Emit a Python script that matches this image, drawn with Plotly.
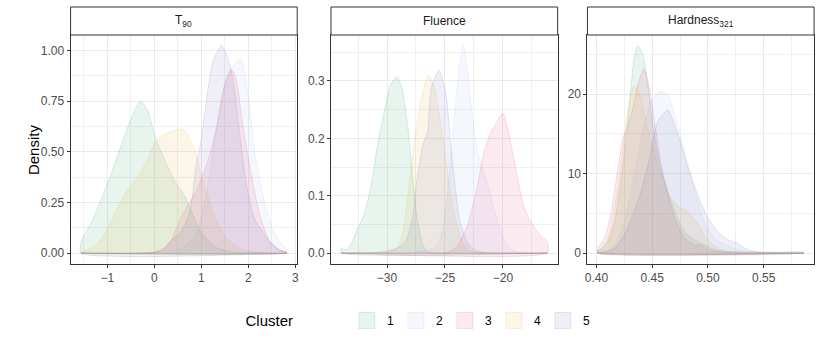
import plotly.graph_objects as go

# ---- data: density curves (x, density) ----
clusters = ["1", "2", "3", "4", "5"]
facet_titles = ["T<sub>90</sub>", "Fluence", "Hardness<sub>321</sub>"]

# T90
t90_x1 = [-1.56, -1.3, -1.0, -0.75, -0.5, -0.3, -0.15, 0.0, 0.2, 0.45, 0.65, 0.8, 1.0, 1.3, 1.6, 2.0, 2.4, 2.82]
t90_y1 = [0.054, 0.17, 0.34, 0.50, 0.66, 0.75, 0.71, 0.59, 0.47, 0.35, 0.28, 0.20, 0.10, 0.03, 0.008, 0.003, 0.001, 0.0]
t90_x2 = [-1.56, 0.0, 0.4, 0.7, 0.9, 1.1, 1.3, 1.5, 1.65, 1.85, 2.0, 2.15, 2.35, 2.55, 2.82]
t90_y2 = [0.0, 0.002, 0.01, 0.04, 0.10, 0.28, 0.58, 0.84, 0.92, 0.955, 0.78, 0.48, 0.25, 0.10, 0.01]
t90_x3 = [-1.56, 0.0, 0.2, 0.35, 0.6, 0.9, 1.15, 1.33, 1.5, 1.64, 1.74, 1.89, 2.06, 2.24, 2.45, 2.66, 2.82]
t90_y3 = [0.0, 0.003, 0.016, 0.06, 0.19, 0.31, 0.46, 0.63, 0.83, 0.905, 0.86, 0.62, 0.39, 0.19, 0.058, 0.016, 0.004]
t90_x4 = [-1.56, -1.3, -1.07, -0.85, -0.6, -0.37, -0.15, 0.0, 0.15, 0.35, 0.62, 0.82, 0.96, 1.11, 1.32, 1.6, 1.88, 2.2, 2.82]
t90_y4 = [0.003, 0.03, 0.09, 0.19, 0.30, 0.37, 0.46, 0.54, 0.58, 0.60, 0.612, 0.535, 0.42, 0.30, 0.156, 0.058, 0.016, 0.004, 0.0]
t90_x5 = [-1.56, 0.0, 0.2, 0.35, 0.55, 0.75, 0.9, 1.0, 1.11, 1.25, 1.43, 1.54, 1.68, 1.82, 1.96, 2.1, 2.24, 2.31, 2.45, 2.66, 2.82]
t90_y5 = [0.0, 0.005, 0.025, 0.06, 0.10, 0.2, 0.45, 0.56, 0.76, 0.95, 1.025, 0.98, 0.85, 0.58, 0.34, 0.19, 0.125, 0.107, 0.058, 0.016, 0.003]

# Fluence
flu_x1 = [-33.94, -33.5, -33.0, -32.5, -32.0, -31.4, -30.8, -30.2, -29.7, -29.15, -28.7, -28.2, -27.8, -27.4, -26.9, -26.5, -25.0, -16.17]
flu_y1 = [0.008, 0.006, 0.02, 0.045, 0.065, 0.115, 0.19, 0.25, 0.293, 0.307, 0.287, 0.218, 0.136, 0.061, 0.0145, 0.003, 0.0, 0.0]
flu_x2 = [-33.94, -28.0, -27.0, -26.0, -25.5, -25.1, -24.7, -24.4, -24.1, -23.8, -23.4, -23.0, -22.6, -22.2, -21.8, -21.4, -20.8, -20.2, -19.6, -19.0, -18.0, -16.17]
flu_y2 = [0.0, 0.001, 0.003, 0.008, 0.02, 0.05, 0.12, 0.19, 0.26, 0.32, 0.362, 0.31, 0.23, 0.18, 0.15, 0.125, 0.08, 0.04, 0.013, 0.003, 0.0, 0.0]
flu_x3 = [-33.94, -25.0, -24.5, -23.95, -23.1, -22.2, -21.65, -21.07, -20.5, -20.0, -19.49, -18.76, -18.2, -17.6, -16.75, -16.17]
flu_y3 = [0.0, 0.0, 0.004, 0.012, 0.046, 0.116, 0.174, 0.209, 0.229, 0.244, 0.209, 0.133, 0.081, 0.055, 0.03, 0.02]
flu_x4 = [-33.94, -30.5, -29.7, -29.1, -28.66, -28.2, -27.66, -27.1, -26.43, -25.9, -25.4, -24.9, -24.5, -23.9, -23.4, -22.8, -21.5, -16.17]
flu_y4 = [0.0, 0.0005, 0.003, 0.009, 0.032, 0.10, 0.189, 0.264, 0.31, 0.287, 0.229, 0.16, 0.10, 0.044, 0.0145, 0.003, 0.0, 0.0]
flu_x5 = [-33.94, -31.0, -30.0, -29.1, -28.4, -27.8, -27.4, -26.9, -26.5, -26.2, -25.5, -24.9, -24.5, -24.1, -23.7, -23.1, -22.5, -21.5, -16.17]
flu_y5 = [0.0, 0.001, 0.004, 0.009, 0.02, 0.061, 0.13, 0.189, 0.212, 0.287, 0.319, 0.276, 0.189, 0.113, 0.055, 0.02, 0.006, 0.001, 0.0]

# Hardness321
hrd_x1 = [0.4012, 0.4045, 0.4104, 0.4164, 0.4223, 0.4268, 0.4313, 0.4342, 0.4372, 0.4417, 0.4461, 0.4506, 0.4565, 0.464, 0.4714, 0.4789, 0.4878, 0.4967, 0.5057, 0.5176, 0.53, 0.586]
hrd_y1 = [0.25, 0.5, 1.47, 4.0, 9.4, 14.9, 21.2, 24.9, 26.1, 24.9, 21.2, 16.1, 11.5, 7.8, 4.8, 2.7, 1.7, 1.05, 0.42, 0.2, 0.15, 0.0]
hrd_x2 = [0.4012, 0.41, 0.4164, 0.4253, 0.4342, 0.4417, 0.4491, 0.458, 0.464, 0.47, 0.476, 0.482, 0.488, 0.494, 0.50, 0.508, 0.518, 0.527, 0.54, 0.56, 0.575, 0.586]
hrd_y2 = [0.1, 0.4, 1.0, 4.0, 9.9, 15.3, 19.1, 20.4, 19.9, 17.5, 14.5, 11.2, 8.0, 5.0, 3.0, 1.6, 0.9, 0.45, 0.2, 0.13, 0.2, 0.2]
hrd_x3 = [0.4012, 0.4074, 0.4134, 0.4193, 0.4238, 0.4283, 0.4327, 0.4372, 0.4426, 0.4476, 0.4521, 0.458, 0.464, 0.4714, 0.4789, 0.4878, 0.4938, 0.4997, 0.5116, 0.53, 0.586]
hrd_y3 = [0.63, 1.9, 5.2, 10.7, 14.5, 16.1, 18.2, 21.2, 23.2, 20.8, 16.6, 11.1, 7.3, 4.0, 1.9, 1.05, 1.05, 0.42, 0.13, 0.02, 0.0]
hrd_x4 = [0.4012, 0.4045, 0.4104, 0.4164, 0.4223, 0.4268, 0.4313, 0.4342, 0.4387, 0.4446, 0.4506, 0.458, 0.4655, 0.4729, 0.4818, 0.4893, 0.4967, 0.5042, 0.5116, 0.5235, 0.54, 0.586]
hrd_y4 = [0.3, 0.63, 1.9, 5.7, 11.5, 16.6, 20.3, 21.0, 19.9, 16.6, 13.2, 9.9, 7.3, 5.9, 5.2, 4.0, 2.3, 1.05, 0.42, 0.13, 0.03, 0.0]
hrd_x5 = [0.4012, 0.4074, 0.4164, 0.4253, 0.4327, 0.4402, 0.4476, 0.4551, 0.464, 0.473, 0.482, 0.491, 0.50, 0.509, 0.518, 0.527, 0.533, 0.541, 0.555, 0.586]
hrd_y5 = [0.05, 0.13, 0.63, 2.3, 4.8, 7.8, 11.9, 16.6, 18.0, 15.0, 10.8, 7.3, 4.4, 2.7, 1.7, 1.2, 0.65, 0.2, 0.1, 0.05]

facets = [
    [(t90_x1, t90_y1), (t90_x2, t90_y2), (t90_x3, t90_y3), (t90_x4, t90_y4), (t90_x5, t90_y5)],
    [(flu_x1, flu_y1), (flu_x2, flu_y2), (flu_x3, flu_y3), (flu_x4, flu_y4), (flu_x5, flu_y5)],
    [(hrd_x1, hrd_y1), (hrd_x2, hrd_y2), (hrd_x3, hrd_y3), (hrd_x4, hrd_y4), (hrd_x5, hrd_y5)],
]

# ---- style ----
base = ["30,150,90", "145,185,225", "225,45,115", "225,165,35", "105,95,175"]
alpha = 0.1
font = "Liberation Sans, Arial, sans-serif"
W, H = 830, 350
panels_px = [(68, 296), (330, 558), (588, 816)]
top_px, bottom_px, strip_top_px = 35, 263.5, 7

x_ranges = [[-1.78, 3.04], [-34.83, -15.28], [0.3920, 0.5952]]
y_ranges = [[-0.0513, 1.077], [-0.0181, 0.380], [-1.307, 27.45]]
x_dticks = [1, 5, 0.05]
y_dticks = [0.25, 0.1, 10]
x_fmt = ["d", "d", ".2f"]
y_fmt = [".2f", ".1f", "d"]

fig = go.Figure()

for i, curves in enumerate(facets):
    ax = "" if i == 0 else str(i + 1)
    for k, (xs, ys) in enumerate(curves):
        fig.add_trace(
            go.Scatter(
                x=list(xs) + [xs[-1], xs[0], xs[0]],
                y=list(ys) + [0, 0, ys[0]],
                mode="lines",
                fill="toself",
                fillcolor=f"rgba({base[k]},{alpha})",
                line={"color": f"rgba({base[k]},{alpha + 0.05})", "width": 1, "shape": "spline", "smoothing": 0.6},
                xaxis="x" + ax,
                yaxis="y" + ax,
                showlegend=False,
                hoverinfo="skip",
            )
        )

# legend-only entries
for k, name in enumerate(clusters):
    fig.add_trace(
        go.Scatter(
            x=[None],
            y=[None],
            mode="markers",
            name=name,
            marker={
                "symbol": "square",
                "size": 16,
                "color": f"rgba({base[k]},{alpha})",
                "line": {"color": f"rgba({base[k]},{alpha + 0.05})", "width": 1},
            },
        )
    )

y_dom = [1 - bottom_px / H, 1 - top_px / H]
axis_common = dict(
    showline=True,
    mirror=True,
    linecolor="#333333",
    linewidth=1,
    ticks="outside",
    ticklen=3,
    tickcolor="#333333",
    tickfont={"family": font, "size": 12, "color": "#4d4d4d"},
    showgrid=True,
    gridcolor="#ebebeb",
    gridwidth=1,
    zeroline=False,
)
layout = {}
shapes = []
annotations = []
for i, (x0, x1) in enumerate(panels_px):
    ax = "" if i == 0 else str(i + 1)
    layout["xaxis" + ax] = dict(
        axis_common,
        domain=[x0 / W, x1 / W],
        range=x_ranges[i],
        dtick=x_dticks[i],
        tickformat=x_fmt[i],
        anchor="y" + ax,
        minor={"dtick": x_dticks[i] / 2, "showgrid": True, "gridcolor": "#f0f0f0", "gridwidth": 1},
    )
    layout["yaxis" + ax] = dict(
        axis_common,
        domain=y_dom,
        range=y_ranges[i],
        dtick=y_dticks[i],
        tickformat=y_fmt[i],
        anchor="x" + ax,
        minor={"dtick": y_dticks[i] / 2, "showgrid": True, "gridcolor": "#f0f0f0", "gridwidth": 1},
    )
    shapes.append(
        dict(
            type="rect",
            xref="paper",
            yref="paper",
            x0=x0 / W,
            x1=x1 / W,
            y0=1 - top_px / H,
            y1=1 - strip_top_px / H,
            fillcolor="white",
            line={"color": "#333333", "width": 1},
            layer="above",
        )
    )
    annotations.append(
        dict(
            text=facet_titles[i],
            xref="paper",
            yref="paper",
            x=(x0 + x1) / 2 / W,
            y=1 - (top_px + strip_top_px) / 2 / H,
            showarrow=False,
            xanchor="center",
            yanchor="middle",
            font={"family": font, "size": 12, "color": "#1a1a1a"},
        )
    )

annotations.append(
    dict(
        text="Density",
        xref="paper",
        yref="paper",
        x=30 / W,
        y=(y_dom[0] + y_dom[1]) / 2,
        textangle=-90,
        showarrow=False,
        xanchor="center",
        yanchor="middle",
        font={"family": font, "size": 15, "color": "black"},
    )
)

fig.update_layout(
    **layout,
    width=W,
    height=H,
    margin={"l": 0, "r": 0, "t": 0, "b": 0},
    paper_bgcolor="white",
    plot_bgcolor="white",
    shapes=shapes,
    annotations=annotations,
    showlegend=True,
    legend={
        "orientation": "h",
        "x": 242 / W,
        "xanchor": "left",
        "y": 1 - 321 / H,
        "yanchor": "middle",
        "title": {"text": "Cluster" + "&nbsp;" * 11, "font": {"family": font, "size": 15, "color": "black"}},
        "font": {"family": font, "size": 12, "color": "black"},
        "itemwidth": 30,
        "entrywidth": 4,
    },
)

# the page's default body margin would shift the figure by 8px
fig.write_html(
    "out.html",
    config={"displayModeBar": False},
    post_script="document.body.style.margin = '0';",
)
